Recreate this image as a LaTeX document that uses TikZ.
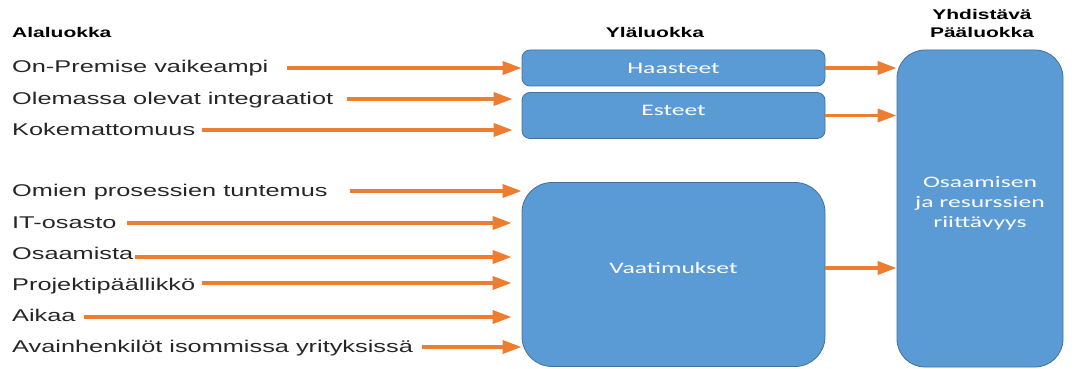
\documentclass[tikz,border=0pt]{standalone}
\usepackage{fontspec}
\usetikzlibrary{arrows.meta}
\setmainfont{Liberation Sans}
% widened faces for the category labels
\newfontfamily\lblfont[FakeStretch=1.49]{Liberation Sans}
\newfontfamily\hdrfont[FakeStretch=1.5]{Liberation Sans}
\newfontfamily\boxfont[FakeStretch=1.6]{Carlito}
\definecolor{arrorange}{HTML}{ED7D31}
\definecolor{boxblue}{HTML}{5B9BD5}
\definecolor{boxedge}{HTML}{41719C}
\definecolor{lbltext}{HTML}{262626}
\tikzset{
  lbl/.style={anchor=base west, inner sep=0pt, text=lbltext,
    font=\lblfont\fontsize{17}{20}\selectfont},
  hdr/.style={anchor=base, inner sep=0pt, text=black,
    font=\hdrfont\bfseries\fontsize{14}{16}\selectfont},
  catbox/.style={draw=boxedge, line width=0.8pt, fill=boxblue, text=white,
    font=\boxfont\fontsize{16}{20}\selectfont, inner sep=0pt},
  boxtext/.style={text=white, font=\boxfont\fontsize{16}{20}\selectfont,
    inner sep=0pt, align=center},
  arr/.style={draw=arrorange, line width=3.5pt,
    -{Triangle[length=19pt,width=13pt]}},
}
\begin{document}
\begin{tikzpicture}[x=1pt,y=-1pt]
\useasboundingbox (0,0) rectangle (1090,369);

% column headings
\node[hdr, anchor=base west] (hsub) at (12,38) {Alaluokka};
\node[hdr] (hsup) at (655,38) {Yläluokka};
\node[hdr] (hmain2) at (982,20) {Yhdistävä};
\node[hdr] (hmain) at (982,38) {Pääluokka};

% upper-level categories
\node[catbox, rounded corners=8pt, minimum width=303pt, minimum height=36pt]
  (has) at (673.5,68) {Haasteet};
\node[catbox, rounded corners=8pt, minimum width=303pt, minimum height=46pt]
  (est) at (673.5,115.5) {};
\node[boxtext] (estt) at (673.5,110) {Esteet};
\node[catbox, rounded corners=30pt, minimum width=303pt, minimum height=184pt]
  (vaa) at (673.5,274.5) {};
\node[boxtext] (vaat) at (673.5,268) {Vaatimukset};

% combining main category
\node[catbox, rounded corners=28pt, minimum width=166pt, minimum height=317pt]
  (pl) at (980,208.5) {};
\node[boxtext] (plt) at (980,203) {Osaamisen\\ja resurssien\\riittävyys};

% subcategories
\node[lbl] (l1) at (12,73)  {On-Premise vaikeampi};
\node[lbl] (l2) at (12,104) {Olemassa olevat integraatiot};
\node[lbl] (l3) at (12,135) {Kokemattomuus};
\node[lbl] (l4) at (12,196) {Omien prosessien tuntemus};
\node[lbl] (l5) at (12,228) {IT-osasto};
\node[lbl] (l6) at (12,259) {Osaamista};
\node[lbl] (l7) at (12,290) {Projektipäällikkö};
\node[lbl] (l8) at (12,321) {Aikaa};
\node[lbl] (l9) at (12,352) {Avainhenkilöt isommissa yrityksissä};

% arrow tails
\coordinate (a1) at (287,68);
\coordinate (a2) at (347,99);
\coordinate (a3) at (202,130);
\coordinate (a4) at (350,191);
\coordinate (a5) at (127,223);
\coordinate (a6) at (135,257);
\coordinate (a7) at (202,283);
\coordinate (a8) at (84,317);
\coordinate (a9) at (422,347);

% subcategory -> upper-level category
\draw[arr] (a1) -- (a1 -| has.west);
\draw[arr, shorten >=9pt] (a2) -- (a2 -| est.west);
\draw[arr, shorten >=9pt] (a3) -- (a3 -| est.west);
\draw[arr] (a4) -- (a4 -| vaa.west);
\draw[arr, shorten >=10pt] (a5) -- (a5 -| vaa.west);
\draw[arr, shorten >=10pt] (a6) -- (a6 -| vaa.west);
\draw[arr, shorten >=10pt] (a7) -- (a7 -| vaa.west);
\draw[arr, shorten >=10pt] (a8) -- (a8 -| vaa.west);
\draw[arr] (a9) -- (a9 -| vaa.west);

% upper-level -> main category
\draw[arr] (has.east) -- (has.east -| pl.west);
\draw[arr] (est.east) -- (est.east -| pl.west);
\draw[arr] (vaa.east |- vaat) -- (vaat -| pl.west);
\end{tikzpicture}
\end{document}
